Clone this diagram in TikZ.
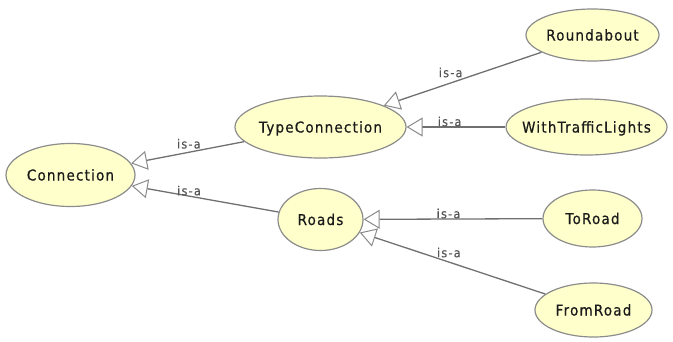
\documentclass[tikz,border=0pt]{standalone}
\usepackage{fontspec}
\usetikzlibrary{shapes.geometric,arrows.meta}

\newfontfamily\classfont[FakeStretch=0.9,LetterSpace=8,FakeBold=0.6]{DejaVu Sans}
\newfontfamily\isafont[FakeStretch=0.9,LetterSpace=10,FakeBold=0.3]{DejaVu Sans}

\definecolor{classfill}{HTML}{FFFFCC}
\definecolor{classline}{HTML}{8C8C8C}
\definecolor{edgeline}{HTML}{707070}
\definecolor{tipline}{HTML}{8A8A8A}
\definecolor{labeltext}{HTML}{555555}
\definecolor{classtext}{HTML}{1A1A1A}

% zero-width text so the ellipse size comes only from minimum width/height
\newcommand\zw[1]{\makebox[0pt]{#1}}

\begin{document}
\begin{tikzpicture}[x=1pt,y=-1pt,
  owlclass/.style={ellipse, draw=classline, fill=classfill, line width=1.2pt,
    inner sep=0pt, text height=11pt, text depth=0pt, text=classtext,
    font=\classfont\fontsize{15}{18}\selectfont},
  isa/.style={draw=edgeline, line width=1.3pt,
    -{Triangle[length=16pt, width=19pt, line width=1pt, color=tipline, fill=white]}},
  isalabel/.style={anchor=south, inner sep=0pt, text=labeltext,
    font=\isafont\fontsize{12.5}{14}\selectfont}]

\useasboundingbox (0,0) rectangle (673,341);

% classes
\node[owlclass, minimum width=129pt, minimum height=63pt] (connection) at (70.5,175) {\zw{Connection}};
\node[owlclass, minimum width=171pt, minimum height=62pt] (typeconn) at (320.5,127) {\zw{TypeConnection}};
\node[owlclass, minimum width=133pt, minimum height=52pt] (roundabout) at (592.5,35) {\zw{Roundabout}};
\node[owlclass, minimum width=161pt, minimum height=56pt] (lights) at (586.5,127) {\zw{WithTrafficLights}};
\node[owlclass, minimum width=85pt, minimum height=62pt] (roads) at (320.5,219.5) {\zw{Roads}};
\node[owlclass, minimum width=99pt, minimum height=57pt] (toroad) at (592.5,218.5) {\zw{ToRoad}};
\node[owlclass, minimum width=117pt, minimum height=54pt] (fromroad) at (593.5,310) {\zw{FromRoad}};

% subclass links
\draw[isa] (typeconn) -- node[isalabel, pos=.49, yshift=3pt] {is-a} (connection);
\draw[isa] (roads) -- node[isalabel, pos=.61] {is-a} (connection);
\draw[isa] (roundabout) -- node[isalabel, pos=.576, yshift=5pt] {is-a} (typeconn);
\draw[isa] (lights) -- node[isalabel, pos=.565] {is-a} (typeconn);
\draw[isa] (toroad) -- node[isalabel, pos=.525] {is-a} (roads);
\draw[isa] (fromroad) -- node[isalabel, pos=.52, yshift=4pt] {is-a} (roads);

\end{tikzpicture}
\end{document}
